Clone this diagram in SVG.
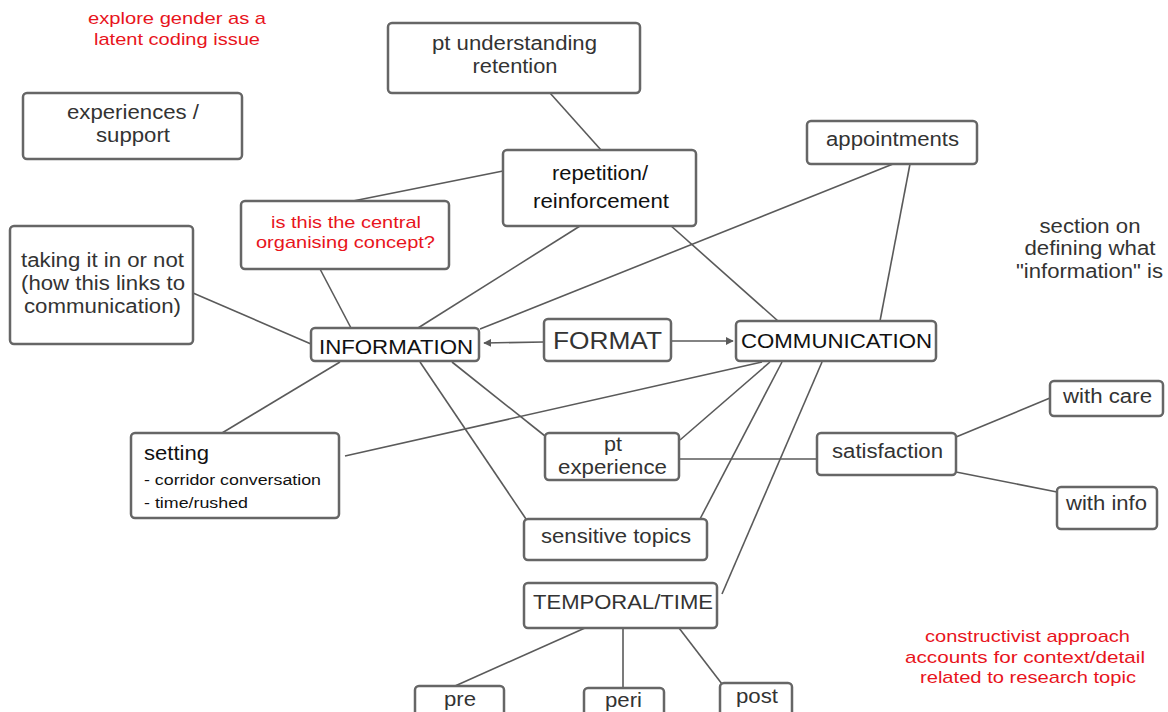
<svg xmlns="http://www.w3.org/2000/svg" width="1168" height="712" viewBox="0 0 1168 712">
<defs>
<style>
.box{fill:#fff;stroke:#666;stroke-width:2.5}
.t{font-family:"Liberation Sans",Arial,sans-serif;font-size:19.5px;fill:#333;text-anchor:middle}
.s{font-size:17px}
.k{fill:#111}
.r{fill:#e8141c}
.c line{stroke:#5a5a5a;stroke-width:1.6}
</style>
<marker id="ah" viewBox="0 0 10 10" refX="9" refY="5" markerWidth="8" markerHeight="8" markerUnits="userSpaceOnUse" orient="auto">
<path d="M0,0 L10,5 L0,10 z" fill="#5a5a5a"/>
</marker>
</defs>
<rect width="1168" height="712" fill="#fff"/>
<g class="c" id="connectors">
<line x1="550" y1="93" x2="601" y2="150"/>
<line x1="503" y1="171" x2="353" y2="201"/>
<line x1="580" y1="226" x2="418" y2="328"/>
<line x1="670" y1="225" x2="778" y2="321"/>
<line x1="893" y1="164" x2="480" y2="329"/>
<line x1="910" y1="164" x2="880" y2="321"/>
<line x1="320" y1="269" x2="351" y2="328"/>
<line x1="193" y1="293" x2="311" y2="344"/>
<line x1="544" y1="342" x2="484" y2="343" marker-end="url(#ah)"/>
<line x1="671" y1="341" x2="733" y2="341" marker-end="url(#ah)"/>
<line x1="340" y1="362" x2="222" y2="433"/>
<line x1="452" y1="362" x2="545" y2="436"/>
<line x1="420" y1="362" x2="526" y2="519"/>
<line x1="762" y1="362" x2="345" y2="456"/>
<line x1="770" y1="362" x2="680" y2="440"/>
<line x1="782" y1="362" x2="700" y2="519"/>
<line x1="822" y1="362" x2="722" y2="594"/>
<line x1="680" y1="459" x2="817" y2="459"/>
<line x1="956" y1="437" x2="1050" y2="398"/>
<line x1="956" y1="472" x2="1057" y2="492"/>
<line x1="585" y1="628" x2="455" y2="686"/>
<line x1="623" y1="628" x2="623" y2="688"/>
<line x1="679" y1="628" x2="722" y2="684"/>
</g>
<g id="note-gender"><text class="t r s" x="177" y="24" textLength="178" lengthAdjust="spacingAndGlyphs">explore gender as a</text><text class="t r s" x="177" y="45" textLength="166" lengthAdjust="spacingAndGlyphs">latent coding issue</text></g>
<g id="experiences"><rect class="box" x="23" y="93" width="219" height="66" rx="4"/><text class="t" x="133" y="119" textLength="132" lengthAdjust="spacingAndGlyphs">experiences /</text><text class="t" x="133" y="142" textLength="74" lengthAdjust="spacingAndGlyphs">support</text></g>
<g id="pt-understanding"><rect class="box" x="388" y="23" width="252" height="70" rx="4"/><text class="t" x="514.5" y="50" textLength="165" lengthAdjust="spacingAndGlyphs">pt understanding</text><text class="t" x="515" y="73" textLength="85" lengthAdjust="spacingAndGlyphs">retention</text></g>
<g id="repetition"><rect class="box" x="503" y="150" width="193" height="76" rx="4"/><text class="t k" x="600" y="180" textLength="96" lengthAdjust="spacingAndGlyphs">repetition/</text><text class="t k" x="601" y="208" textLength="136" lengthAdjust="spacingAndGlyphs">reinforcement</text></g>
<g id="central"><rect class="box" x="241" y="201" width="208" height="68" rx="4"/><text class="t r s" x="346" y="228" textLength="150" lengthAdjust="spacingAndGlyphs">is this the central</text><text class="t r s" x="345.5" y="248" textLength="179" lengthAdjust="spacingAndGlyphs">organising concept?</text></g>
<g id="taking"><rect class="box" x="10" y="226" width="183" height="118" rx="4"/><text class="t" x="102.5" y="267" textLength="163" lengthAdjust="spacingAndGlyphs">taking it in or not</text><text class="t" x="103" y="290" textLength="164" lengthAdjust="spacingAndGlyphs">(how this links to</text><text class="t" x="102.5" y="313" textLength="157" lengthAdjust="spacingAndGlyphs">communication)</text></g>
<g id="appointments"><rect class="box" x="807" y="121" width="170" height="43" rx="4"/><text class="t" x="892.5" y="146" textLength="133" lengthAdjust="spacingAndGlyphs">appointments</text></g>
<g id="information"><rect class="box" x="311" y="328" width="168" height="33" rx="4"/><text class="t k" x="396" y="354" textLength="154" lengthAdjust="spacingAndGlyphs">INFORMATION</text></g>
<g id="format"><rect class="box" x="544" y="319" width="127" height="42" rx="4"/><text class="t" x="607.5" y="349" style="font-size:24px" textLength="109" lengthAdjust="spacingAndGlyphs">FORMAT</text></g>
<g id="communication"><rect class="box" x="736" y="321" width="200" height="40" rx="4"/><text class="t k" x="836.5" y="348" textLength="191" lengthAdjust="spacingAndGlyphs">COMMUNICATION</text></g>
<g id="setting"><rect class="box" x="131" y="433" width="208" height="85" rx="4"/><text class="t k" x="144" y="460" style="text-anchor:start" textLength="65" lengthAdjust="spacingAndGlyphs">setting</text><text class="t k" x="144" y="485" style="text-anchor:start;font-size:15.5px" textLength="177" lengthAdjust="spacingAndGlyphs">- corridor conversation</text><text class="t k" x="144" y="508" style="text-anchor:start;font-size:15.5px" textLength="104" lengthAdjust="spacingAndGlyphs">- time/rushed</text></g>
<g id="pt-experience"><rect class="box" x="545" y="433" width="134" height="47" rx="4"/><text class="t" x="613" y="451" textLength="18" lengthAdjust="spacingAndGlyphs">pt</text><text class="t" x="612.5" y="474" textLength="109" lengthAdjust="spacingAndGlyphs">experience</text></g>
<g id="satisfaction"><rect class="box" x="817" y="433" width="139" height="42" rx="4"/><text class="t" x="887.5" y="458" textLength="111" lengthAdjust="spacingAndGlyphs">satisfaction</text></g>
<g id="with-care"><rect class="box" x="1050" y="381" width="113" height="35" rx="4"/><text class="t" x="1107.5" y="403" textLength="89" lengthAdjust="spacingAndGlyphs">with care</text></g>
<g id="with-info"><rect class="box" x="1057" y="487" width="100" height="42" rx="4"/><text class="t" x="1106.5" y="510" textLength="81" lengthAdjust="spacingAndGlyphs">with info</text></g>
<g id="sensitive"><rect class="box" x="524" y="519" width="183" height="41" rx="4"/><text class="t" x="616" y="543" textLength="150" lengthAdjust="spacingAndGlyphs">sensitive topics</text></g>
<g id="temporal"><rect class="box" x="524" y="583" width="193" height="45" rx="4"/><text class="t" x="623" y="609" textLength="180" lengthAdjust="spacingAndGlyphs">TEMPORAL/TIME</text></g>
<g id="pre"><rect class="box" x="415" y="686" width="89" height="30" rx="4"/><text class="t" x="460" y="706" textLength="32" lengthAdjust="spacingAndGlyphs">pre</text></g>
<g id="peri"><rect class="box" x="584" y="688" width="80" height="30" rx="4"/><text class="t" x="623.5" y="707" textLength="37" lengthAdjust="spacingAndGlyphs">peri</text></g>
<g id="post"><rect class="box" x="720" y="683" width="72" height="33" rx="4"/><text class="t" x="757" y="703" textLength="42" lengthAdjust="spacingAndGlyphs">post</text></g>
<g id="note-information"><text class="t" x="1090" y="233" textLength="101" lengthAdjust="spacingAndGlyphs">section on</text><text class="t" x="1090" y="255" textLength="131" lengthAdjust="spacingAndGlyphs">defining what</text><text class="t" x="1089.5" y="278" textLength="147" lengthAdjust="spacingAndGlyphs">"information" is</text></g>
<g id="note-constructivist"><text class="t r s" x="1027.5" y="642" textLength="205" lengthAdjust="spacingAndGlyphs">constructivist approach</text><text class="t r s" x="1025" y="663" textLength="240" lengthAdjust="spacingAndGlyphs">accounts for context/detail</text><text class="t r s" x="1028" y="683" textLength="216" lengthAdjust="spacingAndGlyphs">related to research topic</text></g>
</svg>
